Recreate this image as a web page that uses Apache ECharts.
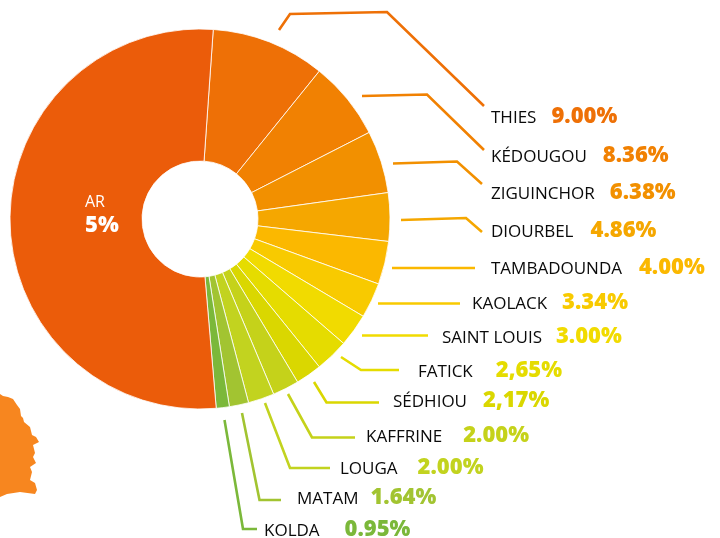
<!DOCTYPE html>
<html>
<head>
<meta charset="utf-8">
<style>html,body{margin:0;padding:0;background:#fff}#c{width:720px;height:538px}</style>
<script src="https://cdn.jsdelivr.net/npm/echarts@6/dist/echarts.min.js"></script>
</head>
<body>
<div id="c"></div>
<script>
// Region names and printed percentages
const names = ['THIES','KÉDOUGOU','ZIGUINCHOR','DIOURBEL','TAMBADOUNDA','KAOLACK','SAINT LOUIS','FATICK','SÉDHIOU','KAFFRINE','LOUGA','MATAM','KOLDA','AR'];
const printed = ['9.00%','8.36%','6.38%','4.86%','4.00%','3.34%','3.00%','2,65%','2,17%','2.00%','2.00%','1.64%','0.95%','5%'];
// Slice sizes as drawn in the picture (degrees of sweep; the drawn pie is not proportional to the printed values)
const sweep = [34.9,24.0,19.1,14.8,13.2,10.8,10.1,10.2,8.0,8.1,8.0,5.9,4.0,188.9];
const colors = ['#EE7006','#F18102','#F29000','#F5A700','#FBB800','#F8CA00','#F1DB00','#E5DC00','#DAD700','#C5D21A','#C2D31F','#A2C431','#7BB83A','#EB5C0A'];

// Label placement [x, y of row centre, gap between name and value]
const labelPos = [[491,117,15],[491,156,16],[491,193,15],[491,231,17],[491,268,17],[472,303,15],[442,337,14],[418,371,23],[393,401,16],[366,436,21],[340,468,20],[297,498,12],[264,530,25],[85,214,0]];
// Leader lines, detached from the pie
const leaders = [
 [[279,30],[290,14],[387,12],[484,106]],
 [[362,96],[427,94.5],[484,150]],
 [[393,163.5],[457,161.5],[482,184]],
 [[401,220],[466,218],[482,232]],
 [[392,268],[475,268]],
 [[378,303.5],[460,303.5]],
 [[362,335.5],[428,335.5]],
 [[341,357],[361,370],[399,370]],
 [[314,382],[326.5,402.5],[379,402.5]],
 [[288,394],[312,437.5],[355,437.5]],
 [[265,403],[290,468],[330,468]],
 [[242,413],[259.5,500],[281,500]],
 [[224.5,420],[243,529],[257,529]]
];
// Corner map fragment
const mapOutline = [[0,394],[3,396],[8,397],[13,399],[17,405],[20,409],[21,416],[23,418],[24,422],[30,427],[32,435],[36,437],[39,442],[33,445],[35,453],[33,457],[36,463],[30,467],[32,472],[30,480],[35,483],[37,490],[35,494],[20,492],[7,494],[0,497]];

const font = '"Open Sans", sans-serif';
const data = names.map((n,i)=>{
  const isAR = n==='AR';
  return {
    name:n, value:sweep[i], itemStyle:{color:colors[i]},
    label:{
      formatter: isAR ? `{n|${n}}\n{v|${printed[i]}}` : `{n|${n}}{v|${printed[i]}}`,
      rich:{
        n:{fontFamily:font,fontSize:isAR?16:17,color:isAR?'#fff':'#0a0a0a',lineHeight:24,padding:isAR?0:[3,0,0,0],verticalAlign:'middle'},
        v:{fontFamily:font,fontSize:22,fontWeight:800,color:isAR?'#fff':colors[i],lineHeight:24,padding:[0,0,0,labelPos[i][2]],verticalAlign:'middle'}
      }
    }
  };
});

const chart = echarts.init(document.getElementById('c'),null,{renderer:'canvas'});
chart.setOption({
  animation:false,
  graphic:[
    {type:'polygon',silent:true,shape:{points:mapOutline},style:{fill:'#F7861F'}},
    ...leaders.map((pts,i)=>({type:'polyline',silent:true,shape:{points:pts},style:{fill:null,stroke:colors[i],lineWidth:2.6,lineJoin:'miter'}}))
  ],
  series:[{
    type:'pie',
    center:[200,219],
    radius:[58,190],
    startAngle:86,
    clockwise:true,
    avoidLabelOverlap:false,
    silent:true,
    itemStyle:{borderColor:'#fff',borderWidth:0.8},
    label:{show:true,position:'outside',alignTo:'none'},
    labelLine:{show:false},
    labelLayout:(p)=>{
      const q = labelPos[p.dataIndex];
      return {x:q[0],y:q[1],align:'left',verticalAlign:'middle',hideOverlap:false};
    },
    data
  }]
});
</script>
</body>
</html>
